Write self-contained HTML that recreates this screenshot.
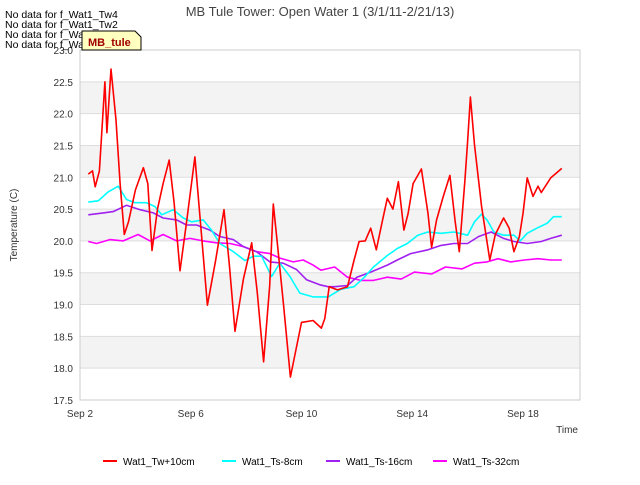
<!DOCTYPE html>
<html><head><meta charset="utf-8"><style>
body{margin:0;background:#fff;font-family:"Liberation Sans",sans-serif}
svg text{font-family:"Liberation Sans",sans-serif}
</style></head><body>
<svg id="c" width="640" height="480" xmlns="http://www.w3.org/2000/svg">
<rect width="640" height="480" fill="#fff"/>
<g id="bands"></g><g id="grid"></g>
<rect x="80" y="50" width="500" height="350" fill="none" stroke="#ccc"/>
<g id="series"></g>
<g id="yt"></g><g id="xt"></g>
<text x="320" y="16" text-anchor="middle" font-size="13" fill="#444">MB Tule Tower: Open Water 1 (3/1/11-2/21/13)</text>
<text transform="translate(17,225) rotate(-90)" text-anchor="middle" font-size="10" fill="#333">Temperature (C)</text>
<text x="578" y="433" text-anchor="end" font-size="10" fill="#333">Time</text>
<g font-size="10.5" fill="#000">
<text x="5" y="18">No data for f_Wat1_Tw4</text>
<text x="5" y="28">No data for f_Wat1_Tw2</text>
<text x="5" y="38">No data for f_Wat1_Ts2</text>
<text x="5" y="48">No data for f_Wat1_Ts4</text>
</g>
<g>
<path d="M82,31 H135 L141,37 V50 H82 Z" fill="#ffffc0" stroke="#000" stroke-width="1"/>
<text x="88" y="46" font-size="11" font-weight="bold" fill="#a00000">MB_tule</text>
</g>
<g id="legend"></g>
</svg>
<script>
const yTicks=[17.5,18.0,18.5,19.0,19.5,20.0,20.5,21.0,21.5,22.0,22.5,23.0];
const xTickDays=[0,4,8,12,16];
const xTickLabels=["Sep 2","Sep 6","Sep 10","Sep 14","Sep 18"];
const seriesNames=["Wat1_Tw+10cm","Wat1_Ts-8cm","Wat1_Ts-16cm","Wat1_Ts-32cm"];
const seriesColors=["#ff0000","#00ffff","#a020f0","#ff00ff"];
const twDays=[0.3,0.45,0.55,0.7,0.9,0.97,1.12,1.3,1.45,1.6,1.75,2.0,2.29,2.45,2.6,2.8,3.0,3.22,3.4,3.61,3.85,4.15,4.35,4.6,4.9,5.2,5.4,5.6,5.9,6.2,6.4,6.63,6.85,6.98,7.12,7.35,7.6,8.0,8.42,8.72,8.84,9.0,9.3,9.66,9.9,10.08,10.3,10.5,10.7,10.93,11.1,11.3,11.5,11.7,11.85,12.03,12.33,12.57,12.7,12.88,13.12,13.36,13.55,13.7,13.9,14.0,14.1,14.25,14.5,14.8,15.0,15.3,15.5,15.67,15.87,16.0,16.15,16.36,16.54,16.66,17.0,17.4];
const twVals=[21.05,21.1,20.85,21.1,22.5,21.7,22.7,21.9,20.9,20.1,20.3,20.8,21.15,20.9,19.85,20.5,20.9,21.27,20.6,19.53,20.3,21.32,20.3,18.99,19.7,20.49,19.6,18.58,19.4,19.97,19.2,18.1,19.3,20.58,20.0,19.0,17.86,18.72,18.75,18.63,18.78,19.28,19.23,19.28,19.7,19.99,20.0,20.2,19.86,20.33,20.67,20.5,20.93,20.17,20.43,20.9,21.13,20.43,19.9,20.33,20.7,21.03,20.3,19.83,20.95,21.56,22.26,21.51,20.55,19.7,20.1,20.36,20.2,19.83,20.07,20.43,20.99,20.7,20.86,20.76,20.99,21.14];
const ts8Days=[0.3,0.66,1.02,1.38,1.68,1.99,2.4,2.7,2.95,3.37,3.73,4.03,4.45,4.75,5.05,5.54,5.96,6.26,6.56,6.92,7.22,7.58,7.94,8.42,8.96,9.42,9.9,10.27,10.6,11.1,11.46,11.82,12.2,12.56,13.04,13.5,14.0,14.25,14.5,14.7,14.95,15.3,15.67,15.9,16.15,16.5,16.88,17.1,17.4];
const ts8Vals=[20.61,20.63,20.77,20.86,20.65,20.6,20.6,20.54,20.41,20.49,20.36,20.3,20.33,20.17,19.96,19.83,19.69,19.76,19.76,19.44,19.65,19.44,19.18,19.12,19.12,19.24,19.28,19.43,19.59,19.77,19.88,19.96,20.09,20.14,20.12,20.14,20.09,20.3,20.42,20.33,20.14,20.09,20.09,20.0,20.12,20.2,20.28,20.38,20.38];
const ts16Days=[0.3,0.84,1.2,1.68,2.17,2.65,3.0,3.49,3.85,4.21,4.69,5.05,5.54,5.9,6.38,6.86,7.34,7.82,8.18,8.66,8.96,9.2,9.66,10.0,10.5,11.1,11.46,11.94,12.57,13.04,13.5,14.0,14.4,14.85,15.3,15.67,16.15,16.66,17.0,17.4];
const ts16Vals=[20.41,20.44,20.46,20.56,20.49,20.44,20.36,20.33,20.25,20.25,20.17,20.07,20.02,19.91,19.83,19.67,19.65,19.55,19.39,19.31,19.28,19.28,19.3,19.43,19.51,19.62,19.7,19.8,19.86,19.93,19.96,19.96,20.07,20.14,20.04,19.99,19.96,19.99,20.04,20.09];
const ts32Days=[0.3,0.6,1.08,1.56,2.1,2.53,3.0,3.49,3.97,4.45,4.93,5.42,5.9,6.38,6.86,7.22,7.7,8.06,8.42,8.7,9.2,9.66,10.14,10.6,11.1,11.6,12.08,12.7,13.2,13.8,14.25,14.7,15.1,15.55,16.05,16.54,17.0,17.4];
const ts32Vals=[19.99,19.96,20.02,20.0,20.1,20.0,20.1,20.0,20.04,20.0,19.97,19.96,19.91,19.83,19.8,19.73,19.67,19.7,19.62,19.54,19.59,19.43,19.38,19.38,19.43,19.4,19.51,19.48,19.59,19.56,19.65,19.67,19.72,19.67,19.7,19.72,19.7,19.7];
const NS="http://www.w3.org/2000/svg";
const X0=80,X1=580,Y0=400,Y1=50;
function xs(d){return X0+d*(523-80)/16;}
function ys(v){return Y0-(v-17.5)*(Y0-Y1)/5.5;}
function mk(t,p){const e=document.createElementNS(NS,t);for(const k in p)e.setAttribute(k,p[k]);return e;}
const bands=document.getElementById('bands'),grid=document.getElementById('grid'),yt=document.getElementById('yt'),xt=document.getElementById('xt');
for(let i=0;i<yTicks.length-1;i++){
 if(i%2==1){const r=mk('rect',{x:X0,y:ys(yTicks[i+1]),width:X1-X0,height:ys(yTicks[i])-ys(yTicks[i+1]),fill:'#f3f3f3'});
 
 bands.appendChild(r);}
}
yTicks.forEach(v=>{
 const l=mk('line',{x1:X0,x2:X1,y1:ys(v),y2:ys(v),stroke:'#ddd'});
 
 grid.appendChild(l);
 const t=mk('text',{x:73,y:ys(v)+4,'text-anchor':'end','font-size':'10',fill:'#333'});t.textContent=v.toFixed(1);
 
 yt.appendChild(t);
});
xTickDays.forEach((d,i)=>{
 const t=mk('text',{x:xs(d),y:417,'text-anchor':'middle','font-size':'10',fill:'#333'});t.textContent=xTickLabels[i];
 
 xt.appendChild(t);
});
const sd=[[twDays,twVals],[ts8Days,ts8Vals],[ts16Days,ts16Vals],[ts32Days,ts32Vals]];
const sg=document.getElementById('series');
[3,2,1,0].forEach(i=>{
 const [ds,vs]=sd[i];
 const p=mk('polyline',{points:ds.map((d,j)=>xs(d).toFixed(1)+','+ys(vs[j]).toFixed(1)).join(' '),fill:'none',stroke:seriesColors[i],'stroke-width':'1.6','stroke-linejoin':'round'});
 
 sg.appendChild(p);
});
const lg=document.getElementById('legend');
const lx=[103,222,326,433];
seriesNames.forEach((n,i)=>{
 const g=mk('g',{});
 
 
 g.appendChild(mk('line',{x1:lx[i],x2:lx[i]+14,y1:461,y2:461,stroke:seriesColors[i],'stroke-width':'2'}));
 const t=mk('text',{x:lx[i]+20,y:465,'font-size':'10',fill:'#000'});t.textContent=n;g.appendChild(t);
 lg.appendChild(g);
});
</script>
</body></html>
